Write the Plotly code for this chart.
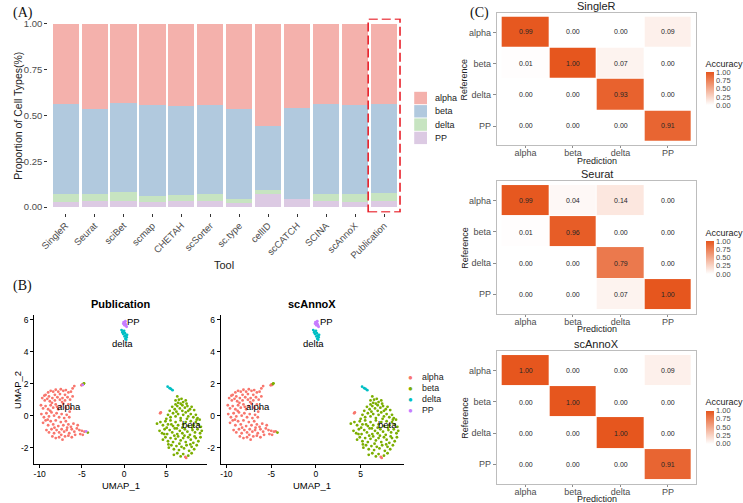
import plotly.graph_objects as go

W, H = 743, 503
def fx(p): return p / W
def fy(p): return 1 - p / H

FONT = "Liberation Sans, Arial, sans-serif"
SERIF = "Liberation Serif, Times New Roman, serif"

# ---------------- Panel A data ----------------
tools = ["SingleR", "Seurat", "sciBet", "scmap", "CHETAH", "scSorter", "sc.type",
         "cellID", "scCATCH", "SCINA", "scAnnoX", "Publication"]
cell_types = ["alpha", "beta", "delta", "PP"]
prop_alpha = [0.436, 0.462, 0.431, 0.445, 0.447, 0.442, 0.462, 0.558, 0.458, 0.438, 0.442, 0.436]
prop_beta  = [0.493, 0.467, 0.487, 0.493, 0.485, 0.485, 0.494, 0.349, 0.500, 0.489, 0.485, 0.487]
prop_delta = [0.042, 0.036, 0.051, 0.033, 0.037, 0.042, 0.020, 0.022, 0.000, 0.042, 0.044, 0.046]
prop_PP    = [0.029, 0.035, 0.031, 0.029, 0.031, 0.031, 0.024, 0.071, 0.042, 0.031, 0.029, 0.031]
highlight_tool = "Publication"

# ---------------- Panel B data (UMAP) ----------------
alpha_xy = [
    (-9.3, 1.3), (-9.0, 1.45), (-8.7, 1.55), (-8.4, 1.5), (-8.1, 1.62), (-7.8, 1.5), (-7.5, 1.65),
    (-7.2, 1.55), (-6.9, 1.6), (-6.6, 1.45), (-6.3, 1.5), (-8.9, 1.2), (-8.2, 1.3), (-7.6, 1.35),
    (-7.0, 1.3), (-6.1, 1.7), (-5.9, 1.85),
    (-9.7, 1.1), (-9.4, 0.95), (-9.1, 1.05), (-8.8, 0.9), (-8.5, 1.1), (-8.2, 0.95), (-7.9, 1.15),
    (-7.6, 1.0), (-7.3, 1.1), (-7.0, 0.95), (-6.7, 1.15), (-6.4, 1.0), (-6.1, 1.2),
    (-9.85, 0.65), (-9.6, 0.45), (-9.3, 0.6), (-9.0, 0.4), (-8.7, 0.65), (-8.4, 0.5), (-8.1, 0.7),
    (-7.8, 0.4), (-7.5, 0.6), (-7.2, 0.75), (-6.9, 0.5), (-6.6, 0.7), (-6.3, 0.45),
    (-9.8, 0.1), (-9.5, -0.1), (-9.2, 0.15), (-8.9, -0.05), (-8.6, 0.2), (-8.3, 0.0), (-8.0, 0.15),
    (-7.7, -0.1), (-7.4, 0.1), (-7.1, -0.15), (-6.8, 0.05), (-6.5, -0.1),
    (-9.6, -0.45), (-9.3, -0.3), (-9.0, -0.6), (-8.7, -0.35), (-8.4, -0.55), (-8.1, -0.3), (-7.8, -0.65),
    (-7.5, -0.4), (-7.2, -0.6), (-6.9, -0.35), (-6.6, -0.55), (-6.3, -0.7), (-6.0, -0.5),
    (-9.2, -0.9), (-8.9, -1.05), (-8.6, -0.85), (-8.3, -1.1), (-8.0, -0.9), (-7.7, -1.05), (-7.4, -0.85),
    (-7.1, -1.0), (-6.8, -0.9), (-6.5, -1.1), (-6.2, -0.85), (-5.9, -1.0), (-5.6, -0.8), (-5.3, -0.9),
    (-5.0, -0.95), (-4.7, -1.0),
    (-8.5, -1.3), (-8.1, -1.4), (-7.7, -1.35), (-7.3, -1.5), (-7.0, -1.3), (-6.6, -1.25), (-6.2, -1.35),
    (-5.8, -1.2), (-5.5, -0.6), (-5.2, -1.15), (-4.9, -1.2), (-9.45, 1.25), (-8.55, 0.8), (-7.35, 0.85),
    (-9.05, -0.25), (-8.25, -0.75), (-7.45, -1.2), (-6.45, 0.25), (-6.75, -0.75), (-7.95, 0.55), (-8.75, 0.3),
]
beta_xy = [
    (6.3, 1.2), (6.5, 1.0), (6.1, 0.95), (6.8, 1.05), (7.0, 0.85), (6.4, 0.8), (6.7, 0.75), (7.3, 0.95),
    (5.7, 0.55), (6.0, 0.4), (6.3, 0.6), (6.6, 0.45), (6.9, 0.65), (7.2, 0.5), (7.5, 0.6), (7.8, 0.4),
    (8.0, 0.55), (6.1, 0.7), (7.4, 0.75), (8.3, 0.35),
    (5.2, 0.05), (5.5, -0.1), (5.8, 0.15), (6.1, -0.05), (6.4, 0.1), (6.7, -0.15), (7.0, 0.05), (7.3, 0.2),
    (7.6, -0.05), (7.9, 0.1), (8.2, -0.1), (8.5, 0.05), (8.7, -0.15), (5.0, -0.2), (6.2, 0.25), (6.9, 0.3),
    (7.6, 0.3), (5.4, 0.3),
    (3.9, -0.5), (4.3, -0.4), (4.6, -0.6), (4.9, -0.35), (5.2, -0.55), (5.5, -0.3), (5.8, -0.65), (6.1, -0.4),
    (6.4, -0.6), (6.7, -0.3), (7.0, -0.55), (7.3, -0.4), (7.6, -0.65), (7.9, -0.35), (8.2, -0.6), (8.5, -0.4),
    (8.8, -0.55), (9.1, -0.7), (8.95, -0.25),
    (4.2, -0.95), (4.5, -1.1), (4.8, -0.85), (5.1, -1.15), (5.4, -0.9), (5.7, -1.05), (6.0, -0.8), (6.3, -1.15),
    (6.6, -0.95), (6.9, -1.1), (7.2, -0.85), (7.5, -1.0), (7.8, -1.2), (8.1, -0.9), (8.4, -1.05), (8.7, -0.85),
    (9.0, -1.1), (9.2, -0.95),
    (4.6, -1.5), (4.9, -1.35), (5.2, -1.6), (5.5, -1.4), (5.8, -1.65), (6.1, -1.45), (6.4, -1.3), (6.7, -1.55),
    (7.0, -1.4), (7.3, -1.65), (7.6, -1.35), (7.9, -1.5), (8.2, -1.7), (8.5, -1.4), (8.8, -1.6), (9.05, -1.35),
    (5.3, -2.0), (5.6, -1.85), (5.9, -2.1), (6.2, -1.9), (6.5, -2.15), (6.8, -1.95), (7.1, -2.05), (7.4, -1.85),
    (7.7, -2.2), (8.0, -1.95), (8.3, -2.1), (8.6, -1.85),
    (5.9, -2.45), (6.3, -2.35), (6.7, -2.55), (7.0, -2.4), (7.6, -2.5), (8.0, -2.35),
    (5.05, -0.75), (5.6, -0.55), (6.25, -0.8), (6.9, -0.75), (7.45, -0.2), (8.05, -0.75), (4.75, -1.15),
    (5.95, -1.25), (7.15, -1.25), (8.35, -1.3), (6.55, -1.75), (7.85, -1.8), (5.25, -1.8), (8.6, -0.25),
]
delta_xy = [(-0.3, 5.35), (-0.15, 5.25), (0.0, 5.3), (-0.1, 5.1), (0.1, 5.15), (0.2, 5.0),
            (0.05, 4.95), (0.3, 4.9), (0.15, 4.8), (0.35, 5.05), (-0.2, 5.2), (0.25, 4.75)]
pp_xy = [(-0.05, 5.85), (0.1, 5.8), (0.2, 5.7), (0.05, 5.65), (0.25, 5.6), (0.15, 5.9),
         (-0.1, 5.75), (0.3, 5.55)]
stray_xy = [(-5.05, 1.9), (-4.95, 1.95), (-4.8, 1.98), (-4.75, 2.02), (-4.9, 1.92), (-4.3, -1.06),
            (-4.5, -0.98), (4.27, 0.15), (4.35, 0.2), (7.25, -2.58), (7.35, -2.64), (5.16, 1.81),
            (5.4, 1.72), (5.55, 1.67), (5.74, 1.59)]
stray_label_pub = ["alpha", "alpha", "beta", "beta", "PP", "beta", "PP", "alpha", "alpha", "alpha",
                   "alpha", "delta", "delta", "delta", "delta"]
stray_label_scannox = ["alpha", "alpha", "beta", "beta", "alpha", "beta", "alpha", "alpha", "alpha",
                       "alpha", "alpha", "delta", "delta", "delta", "delta"]
cluster_label_xy = {"alpha": (-6.5, 0.56), "beta": (8.0, -0.54), "delta": (-0.23, 4.48), "PP": (1.13, 5.88)}

# ---------------- Panel C data (confusion matrices) ----------------
acc_singler = [[0.99, 0.00, 0.00, 0.09],
               [0.01, 1.00, 0.07, 0.00],
               [0.00, 0.00, 0.93, 0.00],
               [0.00, 0.00, 0.00, 0.91]]
acc_seurat = [[0.99, 0.04, 0.14, 0.00],
              [0.01, 0.96, 0.00, 0.00],
              [0.00, 0.00, 0.79, 0.00],
              [0.00, 0.00, 0.07, 1.00]]
acc_scannox = [[1.00, 0.00, 0.00, 0.09],
               [0.00, 1.00, 0.00, 0.00],
               [0.00, 0.00, 1.00, 0.00],
               [0.00, 0.00, 0.00, 0.91]]
acc_ticks = [0, 0.25, 0.5, 0.75, 1.0]

# ---------------- styles ----------------
bar_colors = {"alpha": "#F4B1AC", "beta": "#B1C9DE", "delta": "#C7E4C1", "PP": "#DCCAE3"}
umap_colors = {"alpha": "#F8766D", "beta": "#7CAE00", "delta": "#00BFC4", "PP": "#C77CFF"}
heat_scale = [[0, "#FFFFFF"], [1, "#E6561E"]]

fig = go.Figure()

# Panel A stacked bars
for ct, vals in [("PP", prop_PP), ("delta", prop_delta), ("beta", prop_beta), ("alpha", prop_alpha)]:
    fig.add_trace(go.Bar(x=tools, y=vals, name=ct, marker=dict(color=bar_colors[ct], line=dict(width=0)),
                         xaxis="x", yaxis="y", hoverinfo="skip"))

# Panel B UMAPs
def add_umap(stray_labels, xa, ya):
    base = {"alpha": alpha_xy, "beta": beta_xy, "delta": delta_xy, "PP": pp_xy}
    for ct in cell_types:
        pts = list(base[ct]) + [p for p, l in zip(stray_xy, stray_labels) if l == ct]
        fig.add_trace(go.Scatter(x=[p[0] for p in pts], y=[p[1] for p in pts], mode="markers",
                                 marker=dict(size=2.8, color=umap_colors[ct], line=dict(width=0)),
                                 xaxis=xa, yaxis=ya, hoverinfo="skip", name=ct))

add_umap(stray_label_pub, "x2", "y2")
add_umap(stray_label_scannox, "x3", "y3")

# Panel C heatmaps
heat_specs = [("SingleR", acc_singler, "x4", "y4", "coloraxis"),
              ("Seurat", acc_seurat, "x5", "y5", "coloraxis2"),
              ("scAnnoX", acc_scannox, "x6", "y6", "coloraxis3")]
for name, z, xa, ya, ca in heat_specs:
    fig.add_trace(go.Heatmap(z=z, x=cell_types, y=cell_types, coloraxis=ca, xgap=1, ygap=1,
                             texttemplate="%{z:.2f}", textfont=dict(size=7, color="#262626", family=FONT),
                             xaxis=xa, yaxis=ya, hoverinfo="skip"))

# ---------------- layout ----------------
noline = dict(showgrid=False, zeroline=False)
layout = dict(
    width=W, height=H, margin=dict(l=0, r=0, t=0, b=0),
    paper_bgcolor="white", plot_bgcolor="white", showlegend=False,
    barmode="stack", bargap=0.1,
    font=dict(family=FONT, color="#222222"),
)
# Panel A axes
layout["xaxis"] = dict(domain=[fx(40), fx(400)], anchor="y", type="category", range=[-0.6, 11.6],
                       tickangle=-45, tickfont=dict(size=9.5, color="#4D4D4D"), ticks="outside",
                       ticklen=3, tickcolor="#333333", showline=False, **noline)
layout["yaxis"] = dict(domain=[fy(212.5), fy(18.5)], anchor="x", range=[-0.03, 1.03],
                       tickvals=[0, 0.25, 0.5, 0.75, 1.0], ticktext=["0.00", "0.25", "0.50", "0.75", "1.00"],
                       tickfont=dict(size=9.5, color="#4D4D4D"), ticks="outside", ticklen=3,
                       tickcolor="#333333", showline=False, **noline)

# Panel B axes
umap_x_rng, umap_y_rng = [-10.65, 9.81], [-3.04, 6.29]
ux = dict(range=umap_x_rng, tickvals=[-10, -5, 0, 5], ticktext=["-10", "-5", "0", "5"],
          showline=True, linecolor="black", linewidth=1, ticks="outside", ticklen=3, tickcolor="black",
          tickfont=dict(size=8.5, color="black"), ticklabelstandoff=-2, **noline)
uy = dict(range=umap_y_rng, tickvals=[-2, 0, 2, 4, 6], ticktext=["-2", "0", "2", "4", "6"],
          showline=True, linecolor="black", linewidth=1, ticks="outside", ticklen=3, tickcolor="black",
          tickfont=dict(size=8.5, color="black"), **noline)
layout["xaxis2"] = dict(domain=[fx(25.7), fx(201.7)], anchor="y2", **ux)
layout["yaxis2"] = dict(domain=[fy(464.3), fy(315)], anchor="x2", **uy)
layout["xaxis3"] = dict(domain=[fx(215.7), fx(402.3)], anchor="y3", **ux)
layout["yaxis3"] = dict(domain=[fy(464.3), fy(315)], anchor="x3", **uy)

# Panel C axes
hx = dict(type="category", categoryorder="array", categoryarray=cell_types, range=[-0.6, 3.6],
          showline=True, mirror=True, linecolor="#BDBDBD", linewidth=1, ticks="outside", ticklen=2,
          tickcolor="#8C8C8C", tickfont=dict(size=9, color="#4D4D4D"), ticklabelstandoff=-3, **noline)
hy = dict(type="category", categoryorder="array", categoryarray=cell_types, range=[3.62, -0.62],
          showline=True, mirror=True, linecolor="#BDBDBD", linewidth=1, ticks="outside", ticklen=3,
          tickcolor="#8C8C8C", tickfont=dict(size=9, color="#4D4D4D"), **noline)
heat_rows = [(13.0, 145.4), (181.3, 313.7), (351.3, 483.7)]
for i, (top, bot) in enumerate(heat_rows):
    n = i + 4
    layout[f"xaxis{n}"] = dict(domain=[fx(497.3), fx(700.7)], anchor=f"y{n}", **hx)
    layout[f"yaxis{n}"] = dict(domain=[fy(bot), fy(top)], anchor=f"x{n}", **hy)

def colorbar(yc):
    return dict(title=dict(text="Accuracy", side="top", font=dict(size=9, family=FONT, color="#222222")),
                x=fx(710), xanchor="left", xpad=0, ypad=0, y=fy(yc), yanchor="middle",
                len=48, lenmode="pixels", thickness=8, outlinewidth=0, ticks="",
                tickvals=acc_ticks, ticktext=[f"{v:.2f}" for v in acc_ticks],
                tickfont=dict(size=7.5, color="#4D4D4D", family=FONT))
for key, yc in [("coloraxis", 81.3), ("coloraxis2", 250.0), ("coloraxis3", 419.5)]:
    layout[key] = dict(cmin=0, cmax=1, colorscale=heat_scale, colorbar=colorbar(yc))

fig.update_layout(**layout)

# ---------------- annotations ----------------
ann = []
def txt(text, x, y, size, xanchor="center", yanchor="middle", angle=0, color="#222222", family=FONT, bold=False):
    ann.append(dict(text=f"<b>{text}</b>" if bold else text, x=fx(x), y=fy(y), xref="paper", yref="paper",
                    showarrow=False, xanchor=xanchor, yanchor=yanchor, textangle=angle,
                    font=dict(size=size, color=color, family=family)))

# panel tags
txt("(A)", 2, 13, 14, xanchor="left", family=SERIF, color="#111111")
txt("(B)", 2, 286, 14, xanchor="left", family=SERIF, color="#111111")
txt("(C)", 468, 13, 14, xanchor="left", family=SERIF, color="#111111")

# Panel A titles
txt("Tool", 219, 265, 11)
txt("Proportion of Cell Types(%)", 9, 116, 10.5, angle=-90)
# Panel A legend
for i, ct in enumerate(cell_types):
    yc = 98 + i * 13.3
    fig.add_shape(type="rect", xref="paper", yref="paper", x0=fx(413), x1=fx(426),
                  y0=fy(yc + 6.2), y1=fy(yc - 6.2), fillcolor=bar_colors[ct], line=dict(width=0))
    txt(ct, 432, yc, 9, xanchor="left")

# highlight box around the Publication bar
hi = tools.index(highlight_tool)
fig.add_shape(type="rect", xref="x", yref="y", x0=hi - 0.55, x1=hi + 0.55, y0=-0.027, y1=1.027,
              line=dict(color="#E8202A", width=1.6, dash="9px,4px"), fillcolor="rgba(0,0,0,0)")

# Panel B titles
txt("Publication", 113.7, 304, 11, bold=True, color="black")
txt("scAnnoX", 309, 304, 11, bold=True, color="black")
txt("UMAP_1", 113.7, 485, 9.5, color="black")
txt("UMAP_1", 309, 485, 9.5, color="black")
txt("UMAP_2", 8.5, 389.6, 9.5, angle=-90, color="black")
for xa, ya in [("x2", "y2"), ("x3", "y3")]:
    for ct in cell_types:
        lx, ly = cluster_label_xy[ct]
        ann.append(dict(text=ct, x=lx, y=ly, xref=xa, yref=ya, showarrow=False,
                        font=dict(size=9.5, color="black", family=FONT)))
# Panel B legend
for i, ct in enumerate(cell_types):
    yc = 377 + i * 11
    txt("●", 409, yc, 8, color=umap_colors[ct])
    txt(ct, 419, yc, 8.8, xanchor="left", color="#222222")

# Panel C titles
for (name, *_), (top, bot) in zip(heat_specs, heat_rows):
    txt(name, 599, top - 7, 11, color="#222222")
    txt("Prediction", 599, bot + 15.6, 9, color="#222222")
    txt("Reference", 464, (top + bot) / 2, 9, angle=-90, color="#222222")

fig.update_layout(annotations=ann)
fig.write_html(
    "out.html",
    config={"displayModeBar": False},
    post_script="document.body.style.margin='0px';document.body.style.padding='0px';"
                "document.documentElement.style.overflow='hidden';",
)
